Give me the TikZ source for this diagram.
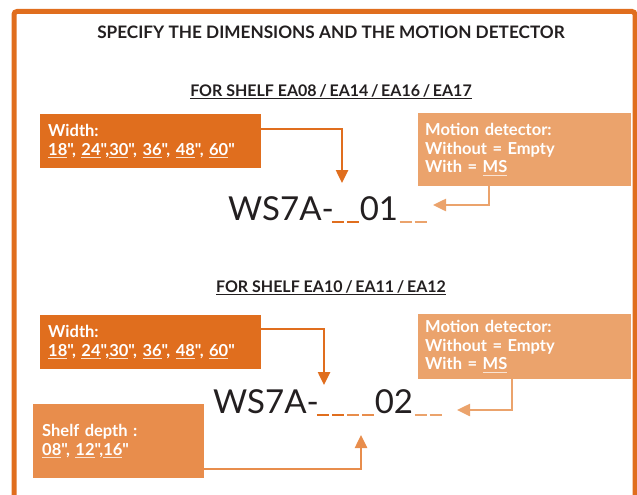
\documentclass[tikz,border=0pt]{standalone}
\usepackage{fontspec}
\setmainfont{Lato}[Ligatures=TeXOff]
\usepackage{xcolor}
\usetikzlibrary{arrows.meta}
\usetikzlibrary{positioning}
\definecolor{laranja}{HTML}{E06E1E}
\definecolor{laranjam}{HTML}{E88D4C}
\definecolor{laranjac}{HTML}{EBA36C}
\definecolor{tinta}{HTML}{231F20}
\newcommand{\sublin}[1]{\leavevmode\setbox0\hbox{#1}\rlap{\color{white!70!laranjac}\rule[-3pt]{\wd0}{1pt}}\box0}
\newcommand{\traco}{\rule[-3pt]{12pt}{2pt}}
\newcommand{\vazio}[1]{\textcolor{#1}{\traco\kern3pt\traco}}
\tikzset{
  caixa/.style={fill=#1, text=white, anchor=north west, align=left, inner ysep=0pt,
    font=\bfseries\fontsize{16.5}{18.5}\selectfont},
  seta/.style={draw=#1, line width=2.5pt, -{Triangle[width=12pt,length=13pt]}},
  codigo/.style={anchor=base west, text=tinta, inner sep=0pt, font=\fontsize{33}{40}\selectfont},
  titulo/.style={anchor=base, text=tinta, inner sep=0pt, font=\bfseries\fontsize{#1}{18}\selectfont},
}

\begin{document}
\begin{tikzpicture}[x=1pt, y=-1pt]
  \useasboundingbox (0,0) rectangle (637,495);
  \clip (0,0) rectangle (637,495);
  \draw[laranja, line width=5pt, rounded corners=3pt] (14,11.5) rectangle (635,540);

  \node[titulo=17.2] (tit) at (331,39) {SPECIFY THE DIMENSIONS AND THE MOTION DETECTOR};

  % shelf EA08 / EA14 / EA16 / EA17
  \node[titulo=16] (sub1) at (331,96) {\underline{FOR SHELF EA08\,/\,EA14\,/\,EA16\,/\,EA17}};
  \node[caixa=laranja, text width=205pt, minimum height=54pt, inner xsep=8pt] (larg1) at (40,114)
    {Width:\\\sublin{18}", \sublin{24}",\sublin{30}", \sublin{36}", \sublin{48}", \sublin{60}"};
  \node[caixa=laranjac, text width=199pt, minimum height=73pt, inner xsep=7pt] (mov1) at (418,113)
    {Motion detector:\\Without = Empty\\With = \sublin{MS}};
  \node[codigo] (cod1) at (228,220) {WS7A-\kern-2pt\vazio{laranja}\kern1pt 01\kern1.5pt\vazio{laranjac}};
  \coordinate (pl1) at (342,183);
  \coordinate (pm1) at (433,205);
  \draw[seta=laranja] ([yshift=12pt]larg1.east) -| (pl1);
  \draw[seta=laranjac] ([xshift=-35.5pt]mov1.south) |- (pm1);

  % shelf EA10 / EA11 / EA12
  \node[titulo=16] (sub2) at (331,292) {\underline{FOR SHELF EA10\,/\,EA11\,/\,EA12}};
  \node[caixa=laranja, text width=205pt, minimum height=54pt, inner xsep=8pt] (larg2) at (40,315)
    {Width:\\\sublin{18}", \sublin{24}",\sublin{30}", \sublin{36}", \sublin{48}", \sublin{60}"};
  \node[caixa=laranjac, text width=199pt, minimum height=65pt, inner xsep=7pt] (mov2) at (418,314)
    {Motion detector:\\Without = Empty\\With = \sublin{MS}};
  \node[caixa=laranjam, text width=153pt, minimum height=74pt, inner xsep=9pt] (prof) at (33,404)
    {Shelf depth :\\\sublin{08}", \sublin{12}",\sublin{16}"};
  \node[codigo] (cod2) at (213,413) {WS7A-\kern-2pt\vazio{laranja}\kern3pt\vazio{laranjam}\kern1pt 02\kern1.5pt\vazio{laranjac}};
  \coordinate (pl2) at (324,385);
  \coordinate (pm2) at (457,410);
  \coordinate (pp) at (361,435);
  \draw[seta=laranja] ([yshift=13pt]larg2.east) -| (pl2);
  \draw[seta=laranjac] ([xshift=-12.5pt]mov2.south) |- (pm2);
  \draw[seta=laranjam] ([yshift=-28pt]prof.east) -| (pp);
\end{tikzpicture}
\end{document}
